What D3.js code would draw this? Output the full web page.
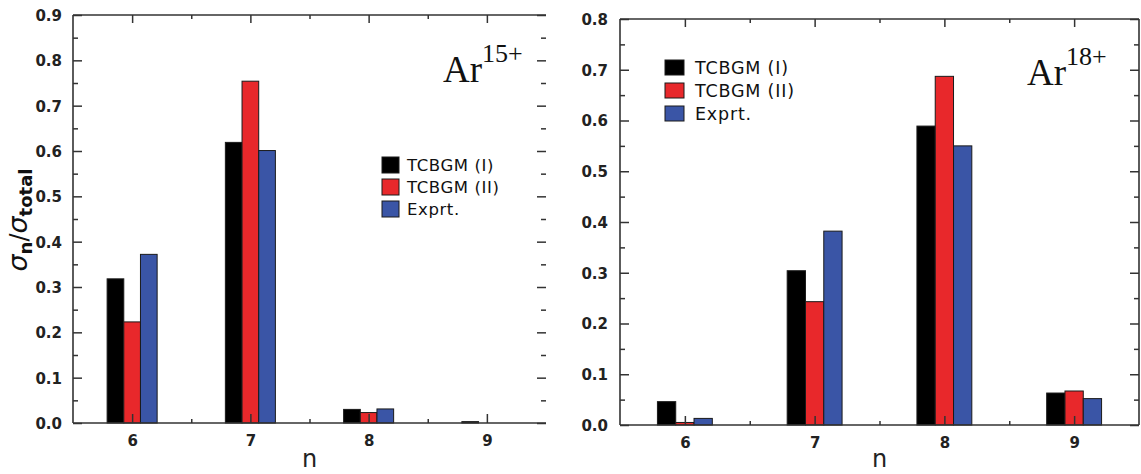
<!DOCTYPE html>
<html>
<head>
<meta charset="utf-8">
<script src="https://cdn.jsdelivr.net/npm/d3@7"></script>
<style>
  html, body { margin: 0; padding: 0; background: #fff; }
  svg { display: block; }
  .tick text { font-family: "DejaVu Sans", sans-serif; font-weight: bold; fill: #222; }
</style>
</head>
<body>
<svg id="chart" width="1141" height="474"></svg>
<script>
// n-resolved capture fractions sigma_n / sigma_total
const categories = [6, 7, 8, 9];
const seriesNames = ["TCBGM (I)", "TCBGM (II)", "Exprt."];
const seriesColors = ["#000000", "#e8282b", "#3a55a6"];

// Ar15+ panel
const ar15TcbgmI  = [0.318, 0.619, 0.030, 0.003];
const ar15TcbgmII = [0.223, 0.754, 0.023, 0.000];
const ar15Exprt   = [0.372, 0.601, 0.031, 0.000];
const ar15YTicks  = [0.0, 0.1, 0.2, 0.3, 0.4, 0.5, 0.6, 0.7, 0.8, 0.9];

// Ar18+ panel
const ar18TcbgmI  = [0.046, 0.304, 0.589, 0.063];
const ar18TcbgmII = [0.005, 0.243, 0.687, 0.067];
const ar18Exprt   = [0.013, 0.382, 0.550, 0.052];
const ar18YTicks  = [0.0, 0.1, 0.2, 0.3, 0.4, 0.5, 0.6, 0.7, 0.8];

const svg = d3.select("#chart");
const fmt = d3.format(".1f");
const barFrac = 0.141; // width of one bar in category units

function drawPanel(p) {
  const g = svg.append("g");
  const x = d3.scaleLinear().domain([5.5, 9.5]).range([p.left, p.right]);
  const y = d3.scaleLinear().domain([0, p.yMax]).range([p.bottom, p.top]);
  const halves = categories.slice(0, -1).map(c => c + 0.5);
  const minors = d3.range(0.05, p.yMax, 0.1);

  // bars
  const series = [p.s1, p.s2, p.s3];
  const bw = x(barFrac) - x(0);
  series.forEach((vals, si) => {
    g.selectAll(null)
      .data(categories.map((c, i) => ({ c, v: vals[i] })))
      .join("rect")
      .attr("x", d => x(d.c + (si - 1.5) * barFrac))
      .attr("y", d => y(d.v))
      .attr("width", bw)
      .attr("height", d => y(0) - y(d.v))
      .attr("fill", seriesColors[si])
      .attr("stroke", "#1a1a1a")
      .attr("stroke-width", 1);
  });

  const strip = sel => { sel.select(".domain").remove(); sel.selectAll("line").attr("stroke", "#333").attr("stroke-width", 1.5); };

  // left axis with labels (ticks pointing inward)
  g.append("g").attr("transform", `translate(${p.left},0)`)
    .call(d3.axisLeft(y).tickValues(p.yTicks).tickFormat(fmt).tickSize(-9).tickPadding(p.labelPad))
    .call(strip)
    .call(s => s.selectAll("text").attr("font-size", 15).attr("dy", "0.36em"));
  g.append("g").attr("transform", `translate(${p.left},0)`)
    .call(d3.axisLeft(y).tickValues(minors).tickFormat("").tickSize(-5))
    .call(strip);

  // right axis ticks
  g.append("g").attr("transform", `translate(${p.right},0)`)
    .call(d3.axisRight(y).tickValues(p.yTicks).tickFormat("").tickSize(-9))
    .call(strip);
  g.append("g").attr("transform", `translate(${p.right},0)`)
    .call(d3.axisRight(y).tickValues(minors).tickFormat("").tickSize(-5))
    .call(strip);

  // bottom axis
  g.append("g").attr("transform", `translate(0,${p.bottom})`)
    .call(d3.axisBottom(x).tickValues(categories).tickFormat(d3.format("d")).tickSize(-9).tickPadding(12))
    .call(strip)
    .call(s => s.selectAll("text").attr("font-size", 15));
  g.append("g").attr("transform", `translate(0,${p.bottom})`)
    .call(d3.axisBottom(x).tickValues(halves).tickFormat("").tickSize(-4))
    .call(strip);

  // top axis
  g.append("g").attr("transform", `translate(0,${p.top})`)
    .call(d3.axisTop(x).tickValues(categories).tickFormat("").tickSize(-8))
    .call(strip);
  g.append("g").attr("transform", `translate(0,${p.top})`)
    .call(d3.axisTop(x).tickValues(halves).tickFormat("").tickSize(-4))
    .call(strip);

  // frame
  const frame = [[p.left, p.top, p.right, p.top], [p.left, p.top, p.left, p.bottom], [p.left, p.bottom, p.right, p.bottom]];
  if (p.rightLine) frame.push([p.right, p.top, p.right, p.bottom]);
  g.selectAll(null).data(frame).join("line")
    .attr("x1", d => d[0]).attr("y1", d => d[1]).attr("x2", d => d[2]).attr("y2", d => d[3])
    .attr("stroke", "#333").attr("stroke-width", 1.6);

  // x-axis title
  g.append("text")
    .attr("x", (p.left + p.right) / 2).attr("y", 467)
    .attr("text-anchor", "middle")
    .attr("font-family", "DejaVu Sans, sans-serif").attr("font-size", 24).attr("fill", "#222")
    .text("n");

  // ion label
  const ion = g.append("text")
    .attr("x", p.ionX).attr("y", p.ionY)
    .attr("font-family", "Liberation Serif, serif").attr("fill", "#111");
  ion.append("tspan").attr("font-size", 37).text("Ar");
  ion.append("tspan").attr("font-size", 26).attr("dy", -20).text(p.ionCharge);

  // legend
  const lg = g.append("g");
  seriesNames.forEach((name, i) => {
    const yy = p.legY + i * p.legStep;
    lg.append("rect")
      .attr("x", p.legX).attr("y", yy)
      .attr("width", p.swW).attr("height", p.swH)
      .attr("fill", seriesColors[i]).attr("stroke", "#1a1a1a").attr("stroke-width", 1);
    lg.append("text")
      .attr("x", p.legX + p.textOff).attr("y", yy + p.swH / 2)
      .attr("dy", "0.36em")
      .attr("font-family", "DejaVu Sans, sans-serif")
      .attr("font-size", p.legFont).attr("letter-spacing", p.legSpacing)
      .attr("fill", "#111")
      .text(name);
  });
}

drawPanel({
  left: 73, right: 546, top: 15, bottom: 423, yMax: 0.9, yTicks: ar15YTicks,
  s1: ar15TcbgmI, s2: ar15TcbgmII, s3: ar15Exprt, labelPad: 11, rightLine: false,
  ionX: 443, ionY: 82, ionCharge: "15+",
  legX: 382, legY: 157, legStep: 22, swW: 17, swH: 16, textOff: 25, legFont: 16.5, legSpacing: 0.6
});

drawPanel({
  left: 620, right: 1139, top: 19, bottom: 425, yMax: 0.8, yTicks: ar18YTicks,
  s1: ar18TcbgmI, s2: ar18TcbgmII, s3: ar18Exprt, labelPad: 12, rightLine: true,
  ionX: 1027, ionY: 85, ionCharge: "18+",
  legX: 665, legY: 60, legStep: 23, swW: 19, swH: 15, textOff: 30, legFont: 17.5, legSpacing: 0.8
});

// y-axis title: sigma_n / sigma_total
const yt = svg.append("text")
  .attr("transform", "translate(27,220) rotate(-90)")
  .attr("text-anchor", "middle")
  .attr("font-family", "DejaVu Sans, sans-serif").attr("fill", "#111");
yt.append("tspan").attr("font-size", 27).attr("font-style", "italic").text("σ");
yt.append("tspan").attr("font-size", 18).attr("font-weight", "bold").attr("dy", 5).text("n");
yt.append("tspan").attr("font-size", 24).attr("dy", -5).text("/");
yt.append("tspan").attr("font-size", 27).attr("font-style", "italic").text("σ");
yt.append("tspan").attr("font-size", 18).attr("font-weight", "bold").attr("dy", 5).text("total");
</script>
</body>
</html>
